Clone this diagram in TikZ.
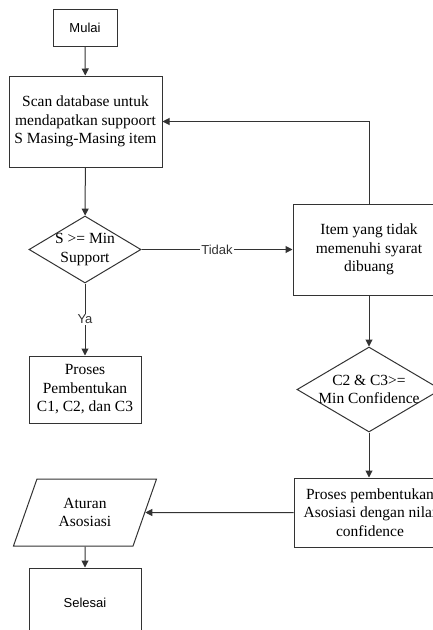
\documentclass[tikz,border=0pt]{standalone}
\usepackage{fontspec}
\setmainfont{Liberation Serif}
\setsansfont{Liberation Sans}
\usetikzlibrary{shapes.geometric,arrows.meta}
\colorlet{grs}{black!80}
\tikzset{
    kotak/.style={draw=grs,line width=1pt,fill=white,align=center,inner sep=0pt,font=\fontsize{15.5}{18.5}\selectfont},
    terminal/.style={kotak,font=\sffamily\fontsize{13}{16}\selectfont},
    putus/.style={kotak,diamond,minimum width=#1},
    teks/.style={align=center,inner sep=0pt,font=\fontsize{15.5}{18.5}\selectfont},
    jajar/.style={kotak,trapezium,trapezium left angle=66,trapezium right angle=114,trapezium stretches=true},
    panah/.style={grs,line width=1pt,-{Triangle[length=7pt,width=7pt]}},
    ket/.style={fill=white,inner sep=1pt,font=\sffamily\fontsize{13}{16}\selectfont}
}
\begin{document}
\begin{tikzpicture}[x=1pt,y=-1pt]
    \useasboundingbox (0,0) rectangle (433,630);
    \clip (0,0) rectangle (433,630);
    \node [terminal,minimum width=64,minimum height=37] (mulai) at (85,27.5) {Mulai};
    \node [kotak,minimum width=153,minimum height=91] (scan) at (85.5,121.5)
        {Scan database untuk\\mendapatkan suppoort\\S Masing-Masing item};
    \node [putus=112,minimum height=67,label={[teks]center:S >= Min\\Support}] (cek1) at (85,249.5) {};
    \node [kotak,minimum width=152,minimum height=91] (buang) at (369,249.5)
        {Item yang tidak\\memenuhi syarat\\dibuang};
    \node [kotak,minimum width=112,minimum height=67] (calon) at (85,389.5)
        {Proses\\Pembentukan\\C1, C2, dan C3};
    \node [putus=144,minimum height=85,label={[teks]center:C2 \& C3>=\\Min Confidence}] (cek2) at (369,389.5) {};
    \node [kotak,minimum width=152,minimum height=69] (asos) at (370,512.5)
        {Proses pembentukan\\Asosiasi dengan nilai\\confidence};
    \node [jajar,minimum width=144,minimum height=67] (aturan) at (85,512.5) {Aturan\\Asosiasi};
    \node [terminal,minimum width=112,minimum height=70] (selesai) at (85,603) {Selesai};
    \draw [panah] (mulai) -- (scan);
    \draw [panah] (scan) -- (cek1);
    \draw [panah] (cek1.east) -- node [ket] {Tidak} (buang.west);
    \draw [panah] (buang.north) |- (scan.east);
    \draw [panah] (cek1.south) -- node [ket] {Ya} (calon.north);
    \draw [panah] (buang.south) -- (cek2.north);
    \draw [panah] (cek2.south) -- (cek2.south |- asos.north);
    \draw [panah] (asos.west) -- (aturan.east);
    \draw [panah] (aturan.south) -- (selesai.north);
\end{tikzpicture}
\end{document}
